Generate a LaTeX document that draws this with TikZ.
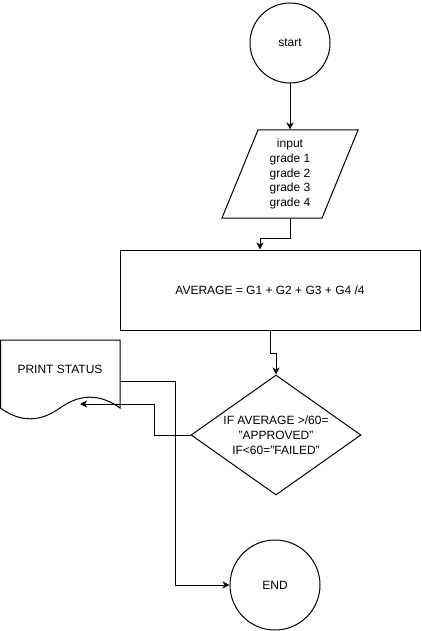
\documentclass[tikz,border=0pt]{standalone}
\usepackage{fontspec}
\setmainfont{Liberation Sans}
\usetikzlibrary{positioning}
\usetikzlibrary{arrows.meta,shapes.geometric,calc}
\tikzset{
    every picture/.style={>={Stealth[length=7pt,width=7pt,inset=2pt]},auto,x=1pt,y=-1pt},
    every node/.style={font=\fontsize{12}{14.8}\selectfont,align=center,inner sep=0pt},
    term/.style={draw,circle},
    io/.style={draw,trapezium,trapezium left angle=72,trapezium right angle=108,trapezium stretches=true,minimum width=137pt,minimum height=88pt},
    proc/.style={draw,rectangle,minimum width=300pt,minimum height=80pt},
    decision/.style={draw,diamond,aspect=1.42,minimum width=170pt,minimum height=120pt},
}

\begin{document}
\begin{tikzpicture}[line width=1pt]
\useasboundingbox (0,0) rectangle (421,631);
\node[term,minimum size=80pt] (start) at (290,43) {start};
\node[io] (grades) at (290,174) {input\\grade 1\\grade 2\\grade 3\\grade 4};
\node[proc] (avg) at (270,290) {AVERAGE = G1 + G2 + G3 + G4 /4};
\node[decision] (check) at (276,435) {IF AVERAGE >/60=\\"APPROVED"\\IF<60="FAILED"};
\node[term,minimum size=90pt] (end) at (275,585) {END};

% print status document
\draw (0.5,340) -- (120,340) -- (120,408) .. controls (100,393.6) and (80,393.6) .. (60,408) .. controls (40,422.4) and (20,422.4) .. (0.5,408) -- cycle;
\node (status) at (60,369) {PRINT STATUS};
\coordinate (statusout) at (120,381);
\coordinate (statusin) at (80,404);

\path
(start) edge[->] (grades)
;
\draw[->] (grades.south) -- ++(0,20) -| ([xshift=-10pt]avg.north);
\draw[->] (avg.south) -- ++(0,23) -| (check.north);
\draw[->] (check.west) -- ++(-36,0) |- (statusin);
\draw[->] (statusout) -- ++(55,0) |- (end.west);

\end{tikzpicture}
\end{document}
